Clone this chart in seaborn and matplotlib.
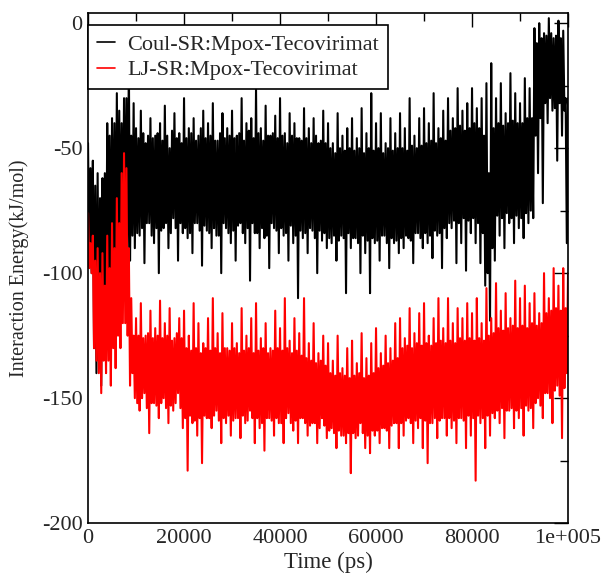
import pandas as pd
from matplotlib import pyplot as plt
from matplotlib.ticker import MultipleLocator, FixedLocator, FixedFormatter
import seaborn as sns
import numpy as np

# time axis, one value every 250 ps
time_ps = np.arange(0, 100001, 250)

coul_sr = [
    -48, -95, -58, -100, -55, -130, -65, -140, -60, -135, -70, -145, -62, -120, -60, -125, -40, -100, -45, -110,
    -38, -98, -40, -105, -28, -90, -35, -92, -40, -88, -30, -88, -30, -95, -15, -95, -45, -85, -32, -90,
    -42, -84, -46, -85, -35, -82, -44, -96, -48, -80, -45, -80, -38, -85, -46, -88, -45, -82, -44, -100,
    -40, -83, -47, -82, -33, -80, -45, -90, -50, -84, -43, -78, -36, -82, -46, -95, -44, -80, -48, -84,
    -30, -82, -46, -86, -42, -84, -44, -92, -38, -80, -47, -80, -45, -83, -42, -97, -35, -81, -46, -83,
    -40, -84, -45, -90, -32, -82, -47, -85, -47, -85, -44, -100, -36, -80, -46, -82, -42, -84, -45, -88,
    -35, -83, -46, -95, -45, -81, -44, -80, -30, -84, -47, -88, -40, -82, -43, -103, -38, -80, -46, -84,
    -26, -84, -44, -90, -42, -82, -47, -86, -33, -85, -45, -98, -45, -80, -44, -82, -37, -83, -46, -92,
    -30, -82, -45, -85, -44, -84, -48, -95, -36, -81, -45, -88, -40, -85, -46, -110, -46, -83, -47, -86,
    -34, -84, -46, -92, -42, -82, -48, -83, -38, -86, -45, -100, -48, -83, -47, -87, -35, -84, -48, -90,
    -40, -86, -50, -88, -48, -85, -52, -95, -36, -87, -50, -85, -45, -86, -51, -108, -42, -84, -50, -90,
    -38, -86, -51, -86, -46, -88, -50, -100, -34, -85, -52, -92, -44, -87, -50, -108, -28, -86, -51, -88,
    -40, -87, -50, -95, -36, -85, -52, -85, -48, -88, -50, -98, -38, -86, -51, -88, -44, -87, -50, -92,
    -36, -86, -50, -90, -42, -85, -51, -86, -30, -87, -49, -96, -45, -84, -50, -84, -38, -86, -49, -90,
    -34, -84, -48, -88, -40, -85, -47, -94, -28, -83, -48, -85, -42, -84, -46, -98, -35, -82, -47, -86,
    -30, -80, -43, -82, -38, -79, -42, -96, -26, -80, -41, -88, -35, -78, -43, -99, -32, -79, -42, -84,
    -26, -78, -40, -88, -34, -80, -42, -96, -30, -84, -45, -105, -24, -100, -60, -119, -16, -90, -42, -95,
    -30, -77, -40, -85, -24, -78, -41, -90, -36, -76, -40, -80, -20, -78, -39, -88, -28, -77, -40, -82,
    -32, -78, -40, -86, -22, -76, -38, -80, -26, -75, -38, -78, -2, -45, -8, -60, 0, -38, -6, -72,
    -4, -32, -5, -40, 2, -30, -4, -35, -6, -34, -5, -55, 1, -32, -6, -45, -3, -35, -30, -88,
    -30,
]

lj_sr = [
    -76, -98, -88, -100, -85, -130, -95, -135, -90, -140, -100, -148, -92, -135, -105, -140, -85, -135, -98, -145,
    -80, -130, -90, -138, -70, -125, -80, -130, -60, -120, -52, -120, -58, -125, -90, -145, -110, -140, -125, -150,
    -118, -152, -125, -155, -112, -150, -126, -148, -125, -154, -124, -164, -115, -152, -126, -152, -122, -153, -125, -158,
    -111, -152, -126, -150, -120, -154, -125, -160, -114, -153, -127, -155, -126, -152, -124, -148, -118, -154, -126, -162,
    -115, -158, -130, -179, -125, -157, -131, -160, -112, -159, -130, -165, -120, -158, -132, -176, -128, -157, -130, -158,
    -118, -158, -131, -162, -110, -157, -130, -155, -124, -159, -132, -168, -116, -158, -130, -160, -130, -157, -131, -165,
    -120, -159, -130, -158, -128, -158, -132, -166, -114, -157, -131, -160, -125, -159, -130, -155, -118, -158, -132, -168,
    -112, -158, -131, -162, -126, -160, -130, -171, -120, -158, -132, -158, -130, -159, -131, -165, -115, -158, -130, -160,
    -122, -160, -131, -168, -110, -158, -130, -156, -127, -160, -132, -163, -118, -159, -131, -168, -124, -158, -133, -158,
    -110, -160, -134, -165, -128, -161, -135, -160, -120, -160, -136, -168, -132, -162, -135, -158, -125, -161, -137, -166,
    -128, -163, -140, -162, -135, -164, -141, -170, -125, -163, -140, -165, -138, -165, -141, -168, -130, -164, -142, -180,
    -127, -164, -141, -166, -136, -165, -140, -160, -124, -164, -142, -170, -134, -165, -141, -172, -128, -163, -140, -165,
    -122, -163, -138, -168, -132, -162, -137, -162, -125, -163, -136, -170, -130, -161, -135, -160, -120, -160, -134, -170,
    -118, -160, -130, -165, -126, -159, -129, -158, -114, -160, -130, -168, -124, -159, -128, -162, -116, -158, -129, -170,
    -112, -159, -128, -176, -125, -160, -129, -160, -118, -158, -128, -166, -110, -159, -127, -158, -122, -158, -128, -165,
    -110, -158, -127, -162, -120, -159, -128, -168, -114, -158, -126, -158, -118, -159, -127, -170, -112, -157, -126, -165,
    -116, -158, -127, -183, -110, -157, -126, -160, -120, -158, -127, -170, -106, -157, -125, -165, -118, -156, -124, -158,
    -104, -155, -122, -160, -115, -154, -123, -166, -108, -155, -122, -155, -118, -154, -121, -162, -103, -155, -122, -158,
    -110, -154, -121, -165, -105, -153, -122, -155, -112, -154, -120, -162, -108, -152, -121, -150, -116, -153, -120, -158,
    -100, -148, -116, -148, -110, -150, -115, -160, -98, -147, -114, -145, -105, -149, -115, -166, -98, -146, -114, -140,
    -100,
]

series_names = ['Coul-SR:Mpox-Tecovirimat', 'LJ-SR:Mpox-Tecovirimat']

df = pd.concat([
    pd.DataFrame({'time': time_ps, 'energy': coul_sr, 'term': series_names[0]}),
    pd.DataFrame({'time': time_ps, 'energy': lj_sr, 'term': series_names[1]}),
])

sns.set_theme(style="white")
plt.rcParams['font.family'] = ['Liberation Serif', 'DejaVu Serif']
plt.rcParams['axes.unicode_minus'] = False

fig = plt.figure(figsize=(6.03, 5.73), dpi=100)
ax = fig.add_axes([0.146, 0.087, 0.796, 0.890])

sns.lineplot(
    x='time', y='energy', data=df,
    hue='term', palette=['black', 'red'],
    estimator=None, sort=False, linewidth=1.5,
    ax=ax
)

ax.set_xlim(0, 100000)
ax.set_ylim(-200, 4)

ax.xaxis.set_major_locator(FixedLocator([0, 20000, 40000, 60000, 80000, 100000]))
ax.xaxis.set_major_formatter(FixedFormatter(['0', '20000', '40000', '60000', '80000', '1e+005']))
ax.xaxis.set_minor_locator(MultipleLocator(10000))
ax.yaxis.set_major_locator(MultipleLocator(50))
ax.yaxis.set_minor_locator(MultipleLocator(25))

ax.tick_params(which='both', direction='in', top=True, right=True,
               color='black', width=1, labelsize=16, pad=4)
ax.tick_params(which='major', length=10)
ax.tick_params(which='minor', length=6)
for s in ax.spines.values():
    s.set_color('black')
    s.set_linewidth(1.2)

ax.set_xlabel('Time (ps)', fontsize=16.5, labelpad=3)
ax.set_ylabel('Interaction Energy(kJ/mol)', fontsize=14.5, labelpad=9)

leg = ax.legend(loc='upper left', bbox_to_anchor=(0, 0.976), borderaxespad=0,
                frameon=True, fancybox=False, framealpha=1, edgecolor='black',
                fontsize=16, handlelength=0.8, handletextpad=0.58,
                borderpad=0.4, labelspacing=0.22)
leg.get_frame().set_linewidth(1.2)
for line in leg.get_lines():
    line.set_linewidth(1.2)

plt.savefig('out.png', dpi=100)
